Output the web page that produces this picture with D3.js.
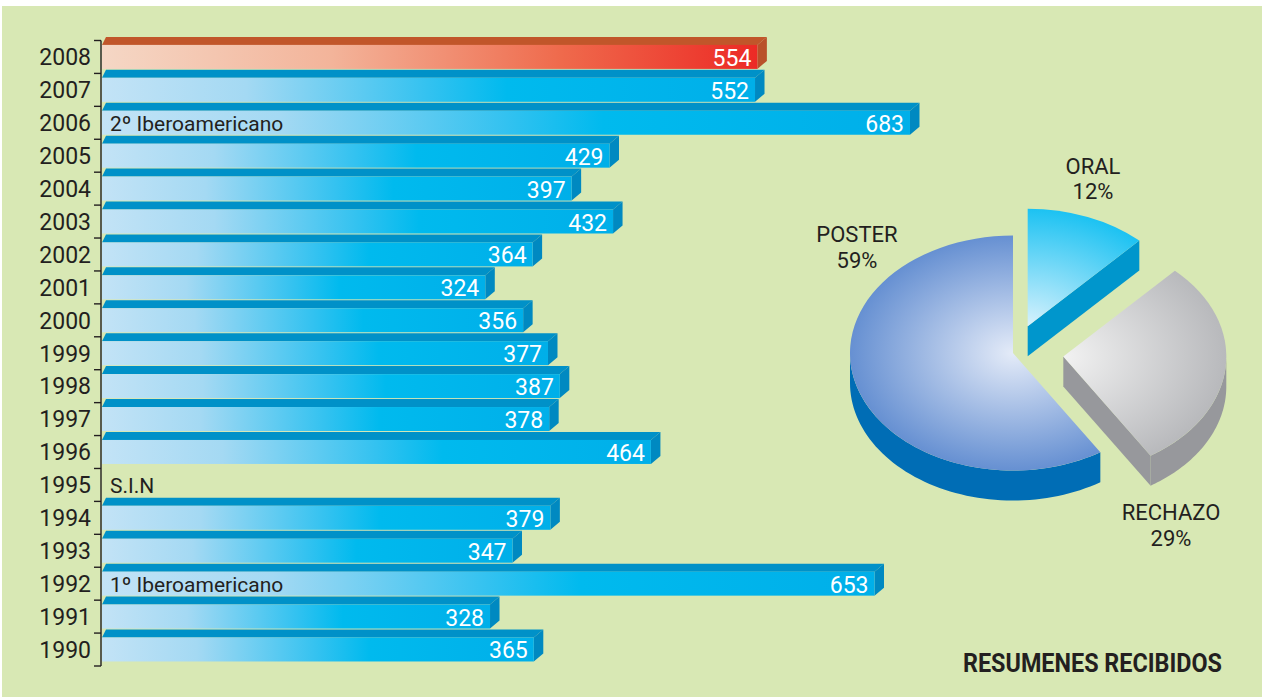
<!DOCTYPE html>
<html>
<head>
<meta charset="utf-8">
<script src="https://cdn.jsdelivr.net/npm/d3@7"></script>
<style>
  html, body { margin: 0; padding: 0; background: #ffffff; }
  svg { display: block; }
  text { font-family: Roboto, "Open Sans", sans-serif; }
</style>
</head>
<body>
<svg id="chart" width="1262" height="699"></svg>
<script>
// ---------------- DATA ----------------
const years  = [2008, 2007, 2006, 2005, 2004, 2003, 2002, 2001, 2000, 1999, 1998, 1997, 1996, 1995, 1994, 1993, 1992, 1991, 1990];
const values = [554, 552, 683, 429, 397, 432, 364, 324, 356, 377, 387, 378, 464, null, 379, 347, 653, 328, 365];
const noteYears = [2006, 1995, 1992];
const noteTexts = ["2º Iberoamericano", "S.I.N", "1º Iberoamericano"];
const highlightYear = 2008;

const pieLabels = ["ORAL", "RECHAZO", "POSTER"];
const pieValues = [12, 29, 59];
const chartTitle = "RESUMENES RECIBIDOS";

// ---------------- LAYOUT ----------------
const svg = d3.select("#chart");
const W = 1262, H = 699;
const ink = "#231f20";

svg.append("rect").attr("x", 2).attr("y", 6).attr("width", W - 2).attr("height", 691).attr("fill", "#d8e8b4");

const defs = svg.append("defs");
function linGrad(id, stops) {
  const g = defs.append("linearGradient").attr("id", id).attr("x1", 0).attr("x2", 1).attr("y1", 0).attr("y2", 0);
  stops.forEach(s => g.append("stop").attr("offset", s[0]).attr("stop-color", s[1]));
}
linGrad("gBlue", [[0, "#c3e3f6"], [0.22, "#a4d9f3"], [0.5, "#33c2f0"], [0.62, "#00baee"], [1, "#00afe9"]]);
linGrad("gRed", [[0, "#f5d7c5"], [0.35, "#f3b49a"], [0.7, "#ef6a4c"], [1, "#ec2a25"]]);

const x = d3.scaleLinear().domain([0, 700]).range([102, 102 + 700 * 1.183]);
const y = d3.scaleBand().domain(years).range([40.5, 666]).padding(0);

const depthX = 9.5, topH = 8, frontH = 24, lift = 3.6;

// axis labels
const axis = d3.axisLeft(y).tickSize(0).tickPadding(10);
const ga = svg.append("g").attr("transform", "translate(101,0)").call(axis);
ga.select(".domain").remove();
ga.selectAll("text").attr("fill", ink).style("font-size", "23px").attr("dy", "0.36em")
  .style("font-family", "Roboto, 'Open Sans', sans-serif");

// bracket line with ticks at band boundaries
const bounds = years.map(yr => y(yr)).concat([y(years[years.length - 1]) + y.bandwidth()]);
svg.append("line").attr("x1", 101).attr("x2", 101).attr("y1", bounds[0]).attr("y2", bounds[bounds.length - 1])
  .attr("stroke", ink).attr("stroke-width", 1.4);
svg.selectAll(".tk").data(bounds).enter().append("line")
  .attr("x1", 94).attr("x2", 101).attr("y1", d => d).attr("y2", d => d)
  .attr("stroke", ink).attr("stroke-width", 1.4);

// bars
const data = years.map((yr, i) => ({ year: yr, value: values[i] }));
const bars = svg.append("g").selectAll("g").data(data.filter(d => d.value != null)).enter().append("g");

bars.each(function (d) {
  const g = d3.select(this);
  const hi = d.year === highlightYear;
  const dark = hi ? "#c1562a" : "#0091c8";
  const side = hi ? "#b9512a" : "#0089c1";
  const x0 = x(0), x1 = x(d.value);
  const t = y(d.year) - lift;      // back top
  const f = t + topH;              // front top
  const b = f + frontH;            // front bottom
  g.append("path").attr("fill", dark)
    .attr("d", `M${x0},${f} L${x0 + 4},${t} L${x1 + depthX},${t} L${x1},${f} Z`);
  g.append("path").attr("fill", side)
    .attr("d", `M${x1},${f} L${x1 + depthX},${t} L${x1 + depthX},${b - topH} L${x1},${b} Z`);
  g.append("rect").attr("x", x0).attr("y", f).attr("width", x1 - x0).attr("height", frontH)
    .attr("fill", hi ? "url(#gRed)" : "url(#gBlue)");
  g.append("text").attr("x", x1 - 6).attr("y", f + 21).attr("text-anchor", "end")
    .attr("fill", "#ffffff").style("font-size", "23px").text(d.value);
});

// notes
noteYears.forEach((yr, i) => {
  const f = y(yr) - lift + topH;
  svg.append("text").attr("x", 110).attr("y", f + 20.5).attr("fill", ink)
    .style("font-size", "21px").text(noteTexts[i]);
});

// ---------------- PIE ----------------
const cx = 1013, cy = 353, rx = 163, ry = 117.5, depth = 30;
const explode = [0.245, 0.31, 0];
const topStops = [
  ["#d8f2fd", "#1cc2f2"],
  ["#f2f2f2", "#b8b9bc"],
  ["#e4ebf8", "#6690d2"]
];
const sideCols = ["#0096cc", "#97989c", "#006db5"];

const pie = d3.pie().sort(null).value(d => d)(pieValues);
const arcGen = d3.arc().innerRadius(0).outerRadius(rx);
const pg = svg.append("g");

pie.forEach((d, i) => {
  const mid = (d.startAngle + d.endAngle) / 2;
  const ox = explode[i] * rx * Math.sin(mid);
  const oy = -explode[i] * ry * Math.cos(mid);
  const ax = cx + ox, ay = cy + oy;
  const P = (a, dy) => [ax + rx * Math.sin(a), ay - ry * Math.cos(a) + dy];

  const b0 = Math.max(d.startAngle, Math.PI / 2), b1 = Math.min(d.endAngle, 3 * Math.PI / 2);
  if (b1 > b0) {
    const n = 60;
    const angs = d3.range(n + 1).map(k => b0 + (b1 - b0) * k / n);
    const pts = angs.map(a => P(a, 0)).concat(angs.slice().reverse().map(a => P(a, depth)));
    pg.append("path").attr("fill", sideCols[i]).attr("d", d3.line()(pts) + "Z");
  }
  [[d.endAngle, Math.sin(d.endAngle) > 0.01], [d.startAngle, -Math.sin(d.startAngle) > 0.01]].forEach(([a, vis]) => {
    if (!vis) return;
    const p0 = P(a, 0), p1 = P(a, depth);
    pg.append("path").attr("fill", sideCols[i])
      .attr("d", `M${ax},${ay} L${p0[0]},${p0[1]} L${p1[0]},${p1[1]} L${ax},${ay + depth} Z`);
  });

  const gid = "pg" + i;
  const rg = defs.append("radialGradient").attr("id", gid).attr("gradientUnits", "userSpaceOnUse")
    .attr("cx", 0).attr("cy", 0).attr("r", rx);
  rg.append("stop").attr("offset", 0).attr("stop-color", topStops[i][0]);
  rg.append("stop").attr("offset", 1).attr("stop-color", topStops[i][1]);
  pg.append("g").attr("transform", `translate(${ax},${ay}) scale(1,${ry / rx})`)
    .append("path").attr("d", arcGen(d)).attr("fill", `url(#${gid})`);
});

// pie labels
const labelPos = [[1093, 173.5], [1171, 520], [857, 242]];
pie.forEach((d, i) => {
  const t = svg.append("text").attr("text-anchor", "middle").attr("fill", ink).style("font-size", "22px");
  t.append("tspan").attr("x", labelPos[i][0]).attr("y", labelPos[i][1]).text(pieLabels[i]);
  t.append("tspan").attr("x", labelPos[i][0]).attr("y", labelPos[i][1] + 25.5).text(pieValues[i] + "%");
});

// title
svg.append("text").attr("x", 963).attr("y", 672).attr("fill", ink)
  .style("font-size", "26px").style("font-weight", "bold")
  .attr("textLength", 259).attr("lengthAdjust", "spacingAndGlyphs").text(chartTitle);
</script>
</body>
</html>
